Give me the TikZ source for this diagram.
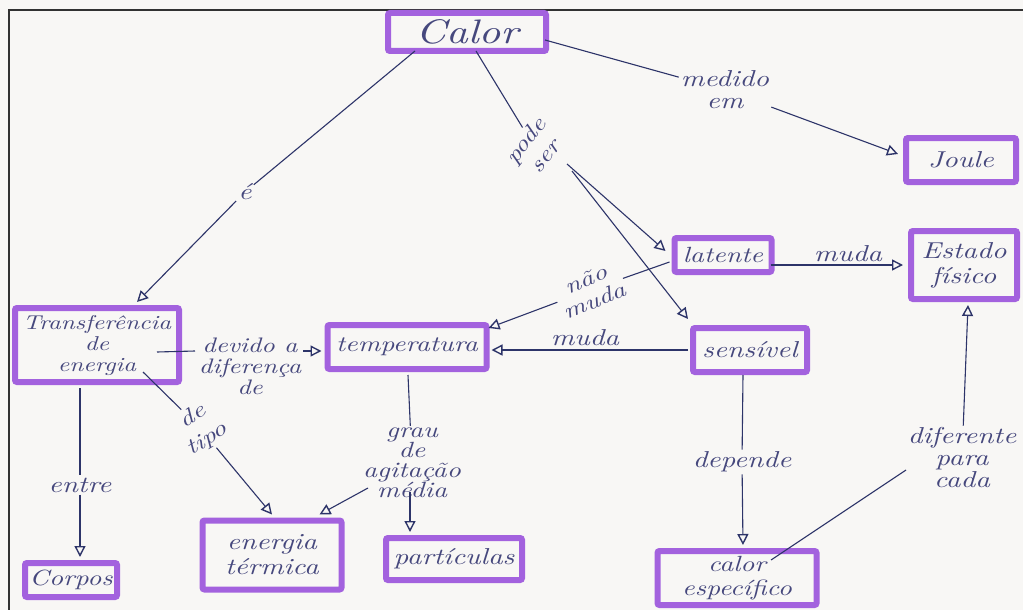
\documentclass[tikz,border=0pt]{standalone}
\usepackage{fontspec}
\setmainfont{lmroman10-regular.otf}[ItalicFont=lmroman10-italic.otf, FakeStretch=1.25]
\usetikzlibrary{arrows.meta,calc}
\definecolor{paper}{RGB}{248,247,245}
\definecolor{mark}{RGB}{163,98,222}
\definecolor{ink}{RGB}{45,52,105}
\definecolor{txt}{RGB}{70,72,125}
\definecolor{frame}{RGB}{50,50,50}
\tikzset{
  box/.style={draw=mark, line width=6pt, rounded corners=2pt, inner sep=0pt,
    align=center, text=txt, font=\itshape\fontsize{23}{23}\selectfont},
  lab/.style={text=txt, align=center, inner sep=2pt, font=\itshape\fontsize{23}{22}\selectfont},
  conn/.style={draw=ink, line width=1.1pt},
  arr/.style={conn, -{Triangle[open, length=11pt, width=11pt, line width=1.4pt]}},
}
\begin{document}
\begin{tikzpicture}[x=1pt,y=-1pt]
\fill[paper] (0,0) rectangle (1023,610);
\useasboundingbox (0,0) rectangle (1023,610);
\draw[frame, line width=1.6pt] (9,610) -- (9,10) -- (1023,10);

% concept boxes
\node[box, minimum width=158, minimum height=38, font=\itshape\fontsize{34}{34}\selectfont] (calor) at (467,32) {Calor};
\node[box, minimum width=110, minimum height=44] (joule) at (961,160) {Joule};
\node[box, minimum width=97, minimum height=34, font=\itshape\fontsize{22}{22}\selectfont] (latente) at (723,255) {latente};
\node[box, minimum width=106, minimum height=68, font=\itshape\fontsize{23}{25}\selectfont] (estado) at (964,265) {Estado\\físico};
\node[box, minimum width=114, minimum height=44] (sensivel) at (750,350) {sensível};
\node[box, minimum width=159, minimum height=44, font=\itshape\fontsize{22}{22}\selectfont] (temp) at (407,347) {temperatura};
\node[box, minimum width=164, minimum height=74, font=\itshape\fontsize{20}{21}\selectfont] (transf) at (97,345) {Transferência\\de\\energia};
\node[box, minimum width=92, minimum height=34, font=\itshape\fontsize{22}{22}\selectfont] (corpos) at (71,580) {Corpos};
\node[box, minimum width=139, minimum height=69, font=\itshape\fontsize{23}{25}\selectfont] (energia) at (272,555) {energia\\térmica};
\node[box, minimum width=136, minimum height=42] (particulas) at (454,559) {partículas};
\node[box, minimum width=159, minimum height=54, font=\itshape\fontsize{22}{24}\selectfont] (calesp) at (737,578) {calor\\específico};

% linking labels
\node[lab] (le) at (245,192) {é};
\node[lab, rotate=52, font=\itshape\fontsize{22}{25}\selectfont] (lpode) at (535,148) {pode\\ser};
\node[lab] (lmedido) at (725,90) {medido\\em};
\node[lab] (lmuda1) at (848,254) {muda};
\node[lab, rotate=22, font=\itshape\fontsize{22}{23}\selectfont] (lnao) at (590,290) {não\\muda};
\node[lab] (lmuda2) at (585,338) {muda};
\node[lab, font=\itshape\fontsize{21}{21}\selectfont] (ldevido) at (250,366) {devido a\\diferença\\de};
\node[lab] (lentre) at (80,485) {entre};
\node[lab, rotate=32, font=\itshape\fontsize{22}{27}\selectfont] (ltipo) at (200,428) {de\\tipo};
\node[lab, font=\itshape\fontsize{22}{20}\selectfont] (lgrau) at (412,463) {grau\\de\\agitação\\média};
\node[lab] (ldepende) at (742,462) {depende};
\node[lab] (ldif) at (962,458) {diferente\\para\\cada};

% connectors
\coordinate (cA) at (415,51);
\draw[conn] (cA) -- (le);
\draw[arr] (le) -- ($(transf.north)+(40,-3)$);

\coordinate (cP) at (476,51);
\draw[conn] (cP) -- (lpode);
\coordinate (pS1) at (567,164);
\coordinate (pS2) at (572,171);
\draw[arr] (pS1) -- ($(latente.west)+(-6,-4)$);
\draw[arr] (pS2) -- ($(sensivel.north west)+(-2,-6)$);

\coordinate (cM) at (545,40);
\draw[conn] (cM) -- (lmedido);
\draw[arr] (lmedido) -- ($(joule.west)+(-5,-6)$);

\draw[arr] ($(latente.east)+(-4,10)$) -- ($(estado.west)+(-5,0)$);
\draw[conn] ($(latente.west)+(-2,7)$) -- (lnao);
\draw[arr] (lnao) -- ($(temp.north east)+(-1,6)$);
\draw[arr] ($(sensivel.west)+(-2,0)$) -- ($(temp.east)+(2,3)$);

\coordinate (tD) at (157,352);
\coordinate (tD2) at (195,351);
\coordinate (tD3) at (303,351);
\draw[conn] (tD) -- (tD2);
\draw[arr] (tD3) -- ($(temp.west)+(-3,4)$);

\draw[conn] ($(transf.south)+(-17,3)$) -- (lentre);
\draw[arr] (lentre) -- ($(corpos.north)+(9,-3)$);

\coordinate (tT) at (143,372);
\draw[conn] (tT) -- (ltipo);
\draw[arr] (ltipo) -- ($(energia.north)+(0,-3)$);

\draw[conn] ($(temp.south)+(1,3)$) -- (lgrau);
\coordinate (gA) at (368,488);
\draw[arr] (gA) -- ($(energia.north east)+(-25,-3)$);
\coordinate (gB) at (410,492);
\draw[arr] (gB) -- ($(particulas.north west)+(27,-3)$);

\draw[conn] ($(sensivel.south)+(-7,0)$) -- (ldepende);
\draw[arr] (ldepende) -- ($(calesp.north)+(6,-3)$);

\draw[arr] (ldif) -- ($(estado.south)+(4,3)$);
\coordinate (dA) at (906,470);
\draw[conn] (dA) -- ($(calesp.north)+(34,12)$);
\end{tikzpicture}
\end{document}
